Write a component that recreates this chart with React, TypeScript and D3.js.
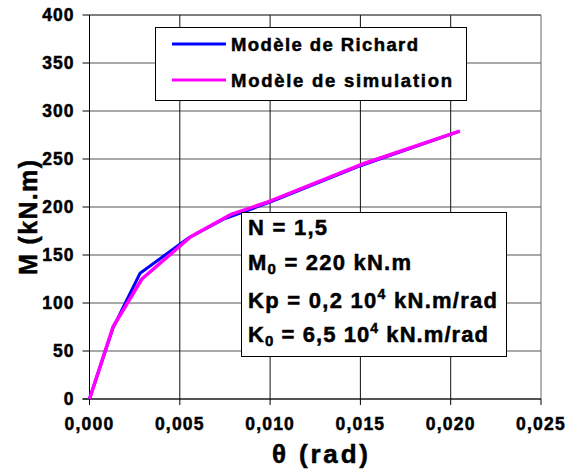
import * as d3 from "d3";

const W = 568;
const H = 472;
const MARGIN = { top: 15, right: 27, bottom: 73, left: 89.5 };

// theta (rad) / M (kN.m)
const thetaRichard = [0, 0.0013, 0.0028, 0.0055, 0.0075, 0.01, 0.015, 0.0205];
const mRichard = [0, 74, 131, 168, 188, 205, 243, 279];
const thetaSimulation = [0, 0.0013, 0.0029, 0.0056, 0.0078, 0.01, 0.015, 0.0205];
const mSimulation = [0, 75, 125, 169, 192, 206, 244, 279];

const xTicks = [0, 0.005, 0.01, 0.015, 0.02, 0.025];
const yTicks = [0, 50, 100, 150, 200, 250, 300, 350, 400];

const legendLabels = ["Modèle de Richard", "Modèle de simulation"];
const legendColors = ["#0000ff", "#ff00ff"];

const FONT = "'Liberation Sans', Arial, sans-serif";
// slight outline to get the heavy look of the original bold text
const TXT = { fontWeight: 700, stroke: "#000", strokeWidth: 0.5 };

export default function App() {
  const boundsWidth = W - MARGIN.left - MARGIN.right;
  const boundsHeight = H - MARGIN.top - MARGIN.bottom;

  const xScale = d3.scaleLinear().domain([0, 0.025]).range([0, boundsWidth]);
  const yScale = d3.scaleLinear().domain([0, 400]).range([boundsHeight, 0]);

  const fmtX = (d: number) => d3.format(".3f")(d).replace(".", ",");

  const lineBuilder = d3
    .line<[number, number]>()
    .x((d) => xScale(d[0]))
    .y((d) => yScale(d[1]));

  const richardPath = lineBuilder(thetaRichard.map((t, i) => [t, mRichard[i]]));
  const simPath = lineBuilder(thetaSimulation.map((t, i) => [t, mSimulation[i]]));

  return (
    <svg
      width={W}
      height={H}
      style={{ position: "absolute", left: 0, top: 0, background: "#fff", fontFamily: FONT, fontWeight: 700 }}
    >
      <g transform={`translate(${MARGIN.left},${MARGIN.top})`}>
        {/* grid */}
        {yTicks.map((t) => (
          <line
            key={"gy" + t}
            x1={0}
            x2={boundsWidth}
            y1={yScale(t)}
            y2={yScale(t)}
            stroke={t === 400 ? "#000" : "#555"}
            strokeWidth={1}
          />
        ))}
        {xTicks.map((t) => (
          <line
            key={"gx" + t}
            x1={xScale(t)}
            x2={xScale(t)}
            y1={0}
            y2={boundsHeight}
            stroke={t === 0.025 ? "#666" : "#111"}
            strokeWidth={1}
          />
        ))}

        {/* axes */}
        <line x1={0} x2={0} y1={0} y2={boundsHeight + 6} stroke="#000" />
        <line x1={-7} x2={boundsWidth} y1={boundsHeight} y2={boundsHeight} stroke="#000" />
        {yTicks.map((t) => (
          <g key={"ty" + t} transform={`translate(0,${yScale(t)})`}>
            <line x1={-7} x2={0} stroke="#000" />
            <text x={-15} dy="0.36em" textAnchor="end" fontSize={17.5} letterSpacing={1} style={TXT}>
              {t}
            </text>
          </g>
        ))}
        {xTicks.map((t) => (
          <g key={"tx" + t} transform={`translate(${xScale(t)},${boundsHeight})`}>
            <line y1={0} y2={6} stroke="#000" />
            <text y={31} textAnchor="middle" fontSize={17.5} letterSpacing={1.2} style={TXT}>
              {fmtX(t)}
            </text>
          </g>
        ))}

        {/* series */}
        <path d={richardPath || ""} fill="none" stroke={legendColors[0]} strokeWidth={3} strokeLinejoin="round" />
        <path d={simPath || ""} fill="none" stroke={legendColors[1]} strokeWidth={3.5} strokeLinejoin="round" />
      </g>

      {/* legend */}
      <rect x={155.5} y={27.5} width={311} height={73} fill="#fff" stroke="#000" />
      {legendLabels.map((label, i) => (
        <g key={label}>
          <line x1={172} x2={226} y1={44 + i * 36} y2={44 + i * 36} stroke={legendColors[i]} strokeWidth={3} />
          <text
            x={231}
            y={50.5 + i * 36}
            fontSize={18.5}
            textLength={i === 0 ? 187 : 221}
            lengthAdjust="spacing"
            style={TXT}
          >
            {label}
          </text>
        </g>
      ))}

      {/* annotation */}
      <rect x={241.5} y={212.5} width={265} height={144} fill="#fff" stroke="#000" />
      <g fontSize={22} style={TXT}>
        <text x={248} y={235} textLength={79} lengthAdjust="spacing">
          N = 1,5
        </text>
        <text x={248} y={270} textLength={163} lengthAdjust="spacing">
          M<tspan fontSize={15} dy={4}>0</tspan>
          <tspan dy={-4}> = 220 kN.m</tspan>
        </text>
        <text x={248} y={308} textLength={249} lengthAdjust="spacing">
          Kp = 0,2 10<tspan fontSize={14} dy={-9}>4</tspan>
          <tspan dy={9}> kN.m/rad</tspan>
        </text>
        <text x={248} y={342} textLength={240} lengthAdjust="spacing">
          K<tspan fontSize={15} dy={4}>0</tspan>
          <tspan dy={-4}> = 6,5 10</tspan>
          <tspan fontSize={14} dy={-9}>4</tspan>
          <tspan dy={9}> kN.m/rad</tspan>
        </text>
      </g>

      {/* axis titles */}
      <text x={272} y={463} fontSize={26} textLength={96} lengthAdjust="spacing" style={TXT}>
        θ (rad)
      </text>
      <text
        transform="translate(37,275) rotate(-90)"
        fontSize={25}
        textLength={115}
        lengthAdjust="spacing"
        style={TXT}
      >
        M (kN.m)
      </text>
    </svg>
  );
}
